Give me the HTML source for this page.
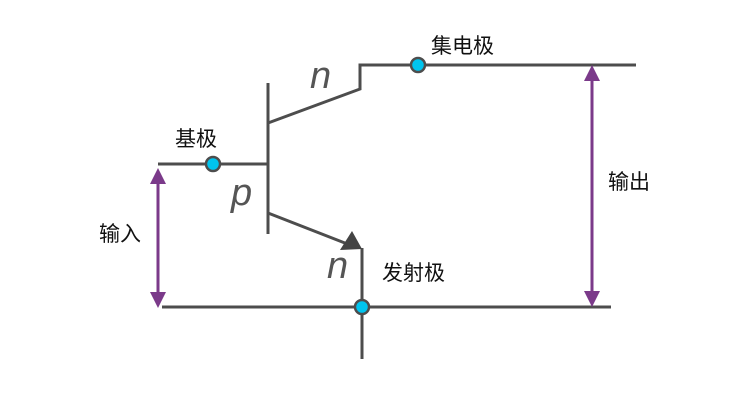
<!DOCTYPE html>
<html><head><meta charset="utf-8"><style>
html,body{margin:0;padding:0;background:#fff;width:750px;height:415px;overflow:hidden}
text{font-family:"Liberation Sans","Noto Sans CJK SC",sans-serif;fill:#111}
</style></head><body>
<svg width="750" height="415" viewBox="0 0 750 415" xmlns="http://www.w3.org/2000/svg">
<g stroke="#4d4d4d" stroke-width="3" fill="none">
<line x1="158" y1="164" x2="268" y2="164"/>
<line x1="268" y1="83" x2="268" y2="234"/>
<polyline points="268,123 360,89 360,65 636,65"/>
<line x1="268" y1="213" x2="350" y2="245"/>
<line x1="362" y1="248" x2="362" y2="359"/>
<line x1="162" y1="307" x2="611" y2="307"/>
</g>
<polygon points="362,249 340,250 352,231" fill="#444"/>
<g stroke="#7b3a8a" stroke-width="3">
<line x1="158" y1="178" x2="158" y2="296"/>
<line x1="592" y1="78" x2="592" y2="294"/>
</g>
<g fill="#7b3a8a">
<polygon points="158,168 150,184 166,184"/>
<polygon points="158,308 150,292 166,292"/>
<polygon points="592,65 584,81 600,81"/>
<polygon points="592,307 584,291 600,291"/>
</g>
<g fill="#00c4ee" stroke="#4d4d4d" stroke-width="2.5">
<circle cx="213" cy="164" r="7"/>
<circle cx="418" cy="65" r="7"/>
<circle cx="362" cy="307" r="7"/>
</g>
<g font-style="italic" font-size="38">
<text x="310" y="88" style="fill:#555">n</text>
<text x="231" y="205" style="fill:#555">p</text>
<text x="327" y="278" style="fill:#555">n</text>
</g>
<g font-size="21">
<text x="431" y="53">集电极</text>
<text x="175" y="146">基极</text>
<text x="382" y="280">发射极</text>
<text x="99" y="241">输入</text>
<text x="608" y="189">输出</text>
</g>
</svg>
</body></html>
